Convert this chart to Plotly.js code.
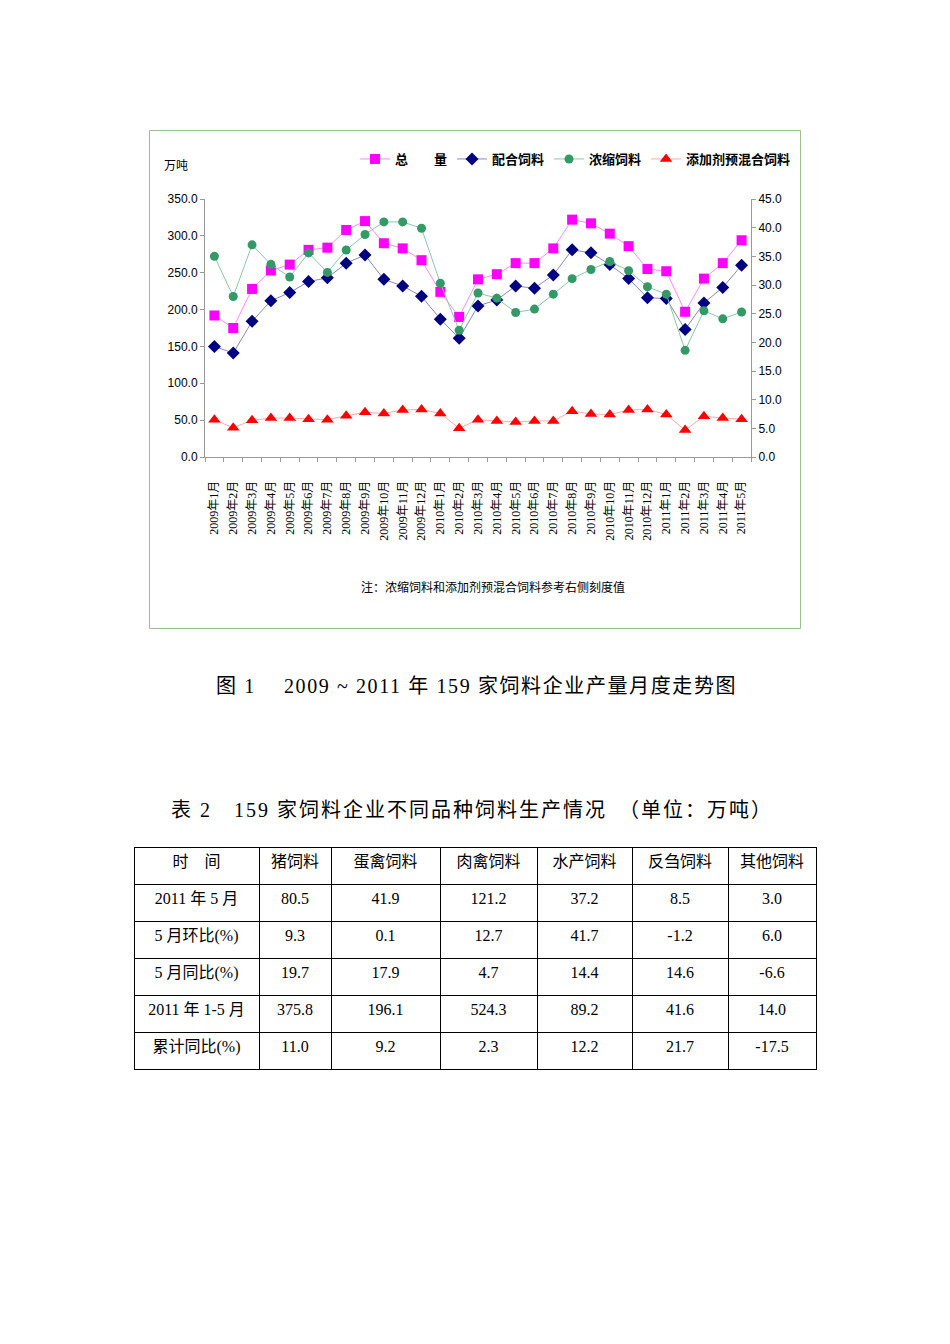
<!DOCTYPE html>
<html>
<head>
<meta charset="utf-8">
<script src="https://cdn.plot.ly/plotly-3.0.1.min.js"></script>
<style>
  body { margin: 0; background: #fff; }
  #plot { width: 950px; height: 1344px; }
  .annotation[data-index="2"] text { letter-spacing: 1.6px; }
  .annotation[data-index="3"] text { letter-spacing: 2px; }
</style>
</head>
<body>
<div id="plot"></div>
<script>
// months on the x axis
var months = ["2009年1月","2009年2月","2009年3月","2009年4月","2009年5月","2009年6月","2009年7月","2009年8月","2009年9月","2009年10月","2009年11月","2009年12月",
  "2010年1月","2010年2月","2010年3月","2010年4月","2010年5月","2010年6月","2010年7月","2010年8月","2010年9月","2010年10月","2010年11月","2010年12月",
  "2011年1月","2011年2月","2011年3月","2011年4月","2011年5月"];

// left axis (万吨)
var total = [192,175,228,253,261,281,284,308,320,290,283,267,224,190,241,248,263,263,283,322,317,303,286,255,252,197,242,263,294];
var compound = [150,141,184,212,223,238,243,263,274,241,232,218,187,161,205,213,232,229,247,281,277,261,242,216,215,173,209,230,260];
// right axis (万吨)
var concentrate = [35.0,28.0,37.0,33.6,31.4,35.6,32.2,36.1,38.8,41.0,41.0,39.9,30.3,22.1,28.6,27.7,25.2,25.8,28.4,31.1,32.7,34.1,32.5,29.7,28.4,18.6,25.5,24.1,25.3];
var premix = [6.5,5.1,6.4,6.8,6.8,6.6,6.5,7.2,7.8,7.6,8.2,8.3,7.6,5.0,6.5,6.3,6.1,6.3,6.3,8.0,7.5,7.4,8.2,8.3,7.4,4.7,7.1,6.8,6.6];

// table 2
var tableHeader = ["时　间","猪饲料","蛋禽饲料","肉禽饲料","水产饲料","反刍饲料","其他饲料"];
var rowLabels = ["2011 年 5 月","5 月环比(%)","5 月同比(%)","2011 年 1-5 月","累计同比(%)"];
var pigFeed = ["80.5","9.3","19.7","375.8","11.0"];
var layerFeed = ["41.9","0.1","17.9","196.1","9.2"];
var broilerFeed = ["121.2","12.7","4.7","524.3","2.3"];
var aquaFeed = ["37.2","41.7","14.4","89.2","12.2"];
var ruminantFeed = ["8.5","-1.2","14.6","41.6","21.7"];
var otherFeed = ["3.0","6.0","-6.6","14.0","-17.5"];

var H = 1344, W = 950;
function py(px) { return 1 - px / H; }
function pxX(px) { return px / W; }

var trace1 = {
  x: months, y: total, name: "总　　量", type: "scatter", mode: "lines+markers",
  line: {color: "#ff88ff", width: 1},
  marker: {symbol: "square", size: 10, color: "#ff00ff"}
};
var trace2 = {
  x: months, y: compound, name: "配合饲料", type: "scatter", mode: "lines+markers",
  line: {color: "#8888bb", width: 1},
  marker: {symbol: "diamond", size: 10, color: "#000080"}
};
var trace3 = {
  x: months, y: concentrate, name: "浓缩饲料", type: "scatter", mode: "lines+markers", yaxis: "y2",
  line: {color: "#88c8a8", width: 1},
  marker: {symbol: "circle", size: 9, color: "#339966"}
};
var trace4 = {
  x: months, y: premix, name: "添加剂预混合饲料", type: "scatter", mode: "lines+markers", yaxis: "y2",
  line: {color: "#ffaaaa", width: 1},
  marker: {symbol: "triangle-up", size: 11, color: "#ff0000"}
};

var cellFont = {family: "Liberation Serif, Noto Sans CJK SC", size: 16, color: "#000"};
var table = {
  type: "table",
  domain: {x: [pxX(134), pxX(816)], y: [py(1075), py(847)]},
  columnwidth: [125, 72, 109, 97, 95, 96, 88],
  header: {
    values: tableHeader,
    align: "center", height: 37,
    line: {color: "#000", width: 1}, fill: {color: "#fff"},
    font: cellFont
  },
  cells: {
    values: [rowLabels, pigFeed, layerFeed, broilerFeed, aquaFeed, ruminantFeed, otherFeed],
    align: "center", height: 37,
    line: {color: "#000", width: 1}, fill: {color: "#fff"},
    font: cellFont
  }
};

var data = [trace1, trace2, trace3, trace4, table];

var axisFont = {family: "Liberation Sans, Arial", size: 12, color: "#000"};
var layout = {
  width: W, height: H,
  margin: {l: 0, r: 0, t: 0, b: 0},
  paper_bgcolor: "#fff", plot_bgcolor: "#fff",
  font: {family: "Liberation Sans, Noto Sans CJK SC", color: "#000"},
  showlegend: true,
  legend: {
    orientation: "h", x: pxX(796), xanchor: "right", y: py(159), yanchor: "middle",
    font: {family: "Noto Sans CJK SC", size: 13, weight: "bold", color: "#000"},
    itemwidth: 30, tracegroupgap: 0, bgcolor: "rgba(0,0,0,0)"
  },
  xaxis: {
    domain: [pxX(205), pxX(751)],
    range: [-0.5, 28.5],
    showgrid: false, zeroline: false,
    showline: true, linecolor: "#999", linewidth: 1,
    ticks: "outside", ticklen: 4, tickcolor: "#999", tickson: "boundaries",
    tickangle: -90, ticklabelstandoff: 18,
    tickfont: {family: "Liberation Serif, Noto Sans CJK SC", size: 12, color: "#000"}
  },
  yaxis: {
    domain: [py(457), py(199)],
    range: [0, 350], dtick: 50, tickformat: ".1f",
    showgrid: false, zeroline: false,
    showline: true, linecolor: "#999", linewidth: 1,
    ticks: "outside", ticklen: 4, tickcolor: "#999",
    tickfont: axisFont
  },
  yaxis2: {
    overlaying: "y", side: "right", anchor: "x",
    range: [0, 45], dtick: 5, tickformat: ".1f",
    showgrid: false, zeroline: false,
    showline: true, linecolor: "#999", linewidth: 1,
    ticks: "outside", ticklen: 4, tickcolor: "#999",
    tickfont: axisFont
  },
  shapes: [{
    type: "rect", xref: "paper", yref: "paper",
    x0: pxX(149.5), x1: pxX(800.5), y0: py(628.5), y1: py(130.5),
    line: {color: "#9cbf8c", width: 1}
  }],
  annotations: [
    {text: "万吨", xref: "paper", yref: "paper", x: pxX(176), y: py(164), xanchor: "center", yanchor: "middle", showarrow: false,
     font: {family: "Noto Sans CJK SC", size: 12, color: "#000"}},
    {text: "注：浓缩饲料和添加剂预混合饲料参考右侧刻度值", xref: "paper", yref: "paper", x: pxX(493), y: py(586), xanchor: "center", yanchor: "middle", showarrow: false,
     font: {family: "Noto Sans CJK SC", size: 12, color: "#000"}},
    {text: "图 1　 2009 ~ 2011 年 159 家饲料企业产量月度走势图", xref: "paper", yref: "paper", x: pxX(476), y: py(686), xanchor: "center", yanchor: "middle", showarrow: false,
     font: {family: "Liberation Serif, Noto Sans CJK SC", size: 20, color: "#000"}},
    {text: "表 2　159 家饲料企业不同品种饲料生产情况　（单位：万吨）", xref: "paper", yref: "paper", x: pxX(472), y: py(810), xanchor: "center", yanchor: "middle", showarrow: false,
     font: {family: "Liberation Serif, Noto Sans CJK SC", size: 20, color: "#000"}}
  ]
};

Plotly.newPlot("plot", data, layout, {displayModeBar: false, staticPlot: true});
</script>
</body>
</html>
